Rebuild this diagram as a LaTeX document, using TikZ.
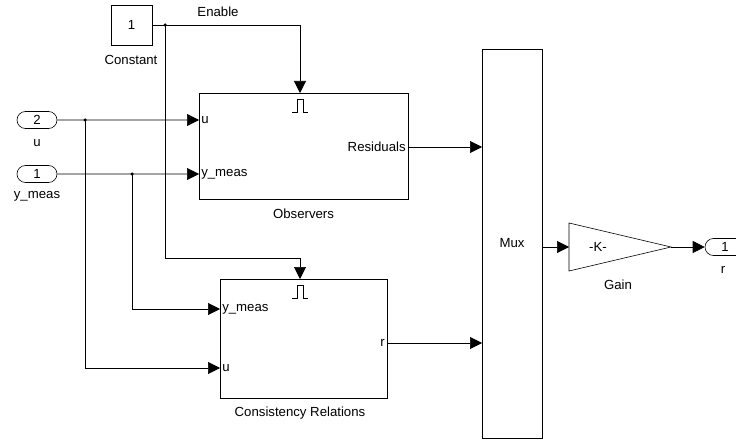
\documentclass[tikz,border=0pt]{standalone}
\usepackage{fontspec}
\setmainfont{Liberation Sans}
\usetikzlibrary{arrows.meta,shapes.misc}

\begin{document}
\begin{tikzpicture}[x=1pt,y=-1pt,>={Triangle[length=12pt,width=12pt]},line width=0.6pt,
  font=\fontsize{13.2}{15}\selectfont,
  blk/.style={draw,rectangle,inner sep=0pt},
  io/.style={draw,rounded rectangle,minimum width=40pt,minimum height=17pt,inner sep=0pt},
  lbl/.style={inner sep=2pt},
  dot/.style={circle,fill,inner sep=0pt,minimum size=3.5pt}]
\useasboundingbox (0,0) rectangle (736,441);
% blocks
\node[blk,minimum width=41pt,minimum height=40pt] (const) at (131.5,25) {1};
\node[lbl] at (131,60) {Constant};
\node[lbl] at (218,12) {Enable};
\node[io] (in2) at (37,120) {2};
\node[lbl] at (37,143) {u};
\node[io] (in1) at (37,174) {1};
\node[lbl] at (37,196) {y\_meas};
\node[blk,minimum width=209pt,minimum height=106pt] (obs) at (303.5,146) {};
\node[lbl] at (303.5,214) {Observers};
\node[blk,minimum width=167pt,minimum height=119pt] (cr) at (303.5,338.5) {};
\node[lbl] at (300,413) {Consistency Relations};
\node[blk,minimum width=60pt,minimum height=389pt] (mux) at (512,243.5) {Mux};
\coordinate (gin) at (569,247);
\coordinate (gout) at (671,247);
\draw (569,223) -- (gout) -- (569,271) -- cycle;
\node (gain) at (598,247) {-K-};
\node[lbl] at (618,285) {Gain};
\node[io] (out1) at (725,247) {1};
\node[lbl] at (723,270) {r};
% ports
\coordinate (obs-u) at (199,120);
\coordinate (obs-y) at (199,174);
\coordinate (obs-en) at (300,93);
\coordinate (obs-res) at (408,147);
\coordinate (cr-y) at (220,309);
\coordinate (cr-u) at (220,368);
\coordinate (cr-en) at (300,279);
\coordinate (cr-r) at (387,343);
\coordinate (mux-a) at (482,147);
\coordinate (mux-b) at (482,343);
\coordinate (mux-out) at (542,247);
\coordinate (j1) at (165,25);
\coordinate (j2) at (85,120);
\coordinate (j3) at (132,174);
\coordinate (bend) at (300,258);
\node[lbl,anchor=west] at (obs-u) {u};
\node[lbl,anchor=west] at (obs-y) {y\_meas};
\node[lbl,anchor=east] at (obs-res) {Residuals};
\node[lbl,anchor=west] at (cr-y) {y\_meas};
\node[lbl,anchor=west] at (cr-u) {u};
\node[lbl,anchor=east] at (cr-r) {r};
\foreach \b in {112,298}
  \draw (292,\b) -- (297,\b) -- (297,\b-13) -- (303,\b-13) -- (303,\b) -- (308,\b);
% signals
\draw (const.east) -- (j1);
\draw[->] (j1) -| (obs-en);
\draw[->] (j1) |- (bend) -- (cr-en);
\draw[->] (in2) -- (obs-u);
\draw[->] (j2) |- (cr-u);
\draw[->] (in1) -- (obs-y);
\draw[->] (j3) |- (cr-y);
\draw[->] (obs-res) -- (mux-a);
\draw[->] (cr-r) -- (mux-b);
\draw[->] (mux-out) -- (gin);
\draw[->] (gout) -- (out1);
\node[dot] at (j1) {};
\node[dot] at (j2) {};
\node[dot] at (j3) {};
\end{tikzpicture}
\end{document}
